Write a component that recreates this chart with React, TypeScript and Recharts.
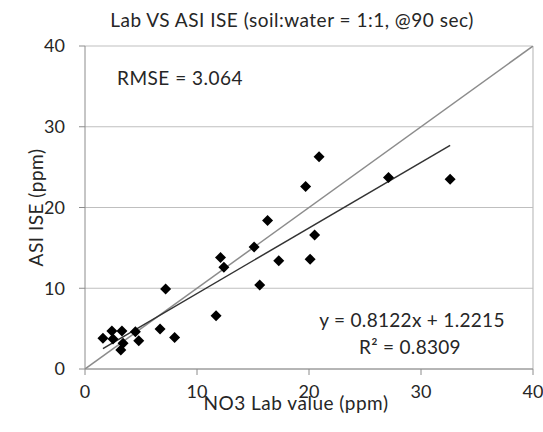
import React from 'react';
import { ScatterChart, Scatter, XAxis, YAxis, CartesianGrid, ReferenceLine } from 'recharts';

const labX = [1.6, 2.4, 3.3, 2.5, 3.4, 3.2, 4.5, 4.8, 6.7, 7.2, 8.0, 11.7, 12.1, 12.4, 15.1, 15.6, 16.3, 17.3, 19.7, 20.1, 20.5, 20.9, 27.1, 32.6];
const iseY = [3.8, 4.7, 4.7, 3.7, 3.2, 2.35, 4.6, 3.5, 4.95, 9.9, 3.9, 6.6, 13.8, 12.6, 15.1, 10.4, 18.4, 13.4, 22.6, 13.6, 16.6, 26.3, 23.7, 23.5];
const axisTicks = [0, 10, 20, 30, 40];
const oneToOne = [0, 40];
const slope = 0.8122;
const intercept = 1.2215;

const points = labX.map((x, i) => ({ x, y: iseY[i] }));
const diag = oneToOne.map((v) => ({ x: v, y: v }));
const xMin = Math.min(...labX);
const xMax = Math.max(...labX);
const trend = [xMin, xMax].map((x) => ({ x, y: slope * x + intercept }));

const FONT = 'Lato, "Open Sans", sans-serif';
const TXT = '#262626';

const Diamond = (props: any) => {
  const { cx, cy } = props;
  const r = 5.5;
  return <polygon points={`${cx},${cy - r} ${cx + r},${cy} ${cx},${cy + r} ${cx - r},${cy}`} fill="#000" />;
};

export default function App() {
  return (
    <div style={{ position: 'absolute', left: 0, top: 0, width: 543, height: 432, background: '#fff' }}>
      <ScatterChart width={543} height={432} margin={{ top: 46, right: 10, bottom: 0, left: 0 }}>
        <CartesianGrid horizontal={true} vertical={false} stroke="#bfbfbf" strokeWidth={1.2} />
        <XAxis
          type="number"
          dataKey="x"
          domain={[0, 40]}
          ticks={axisTicks}
          height={63}
          tickSize={6}
          tickMargin={10}
          stroke="#8c8c8c"
          tick={{ fill: TXT, fontSize: 18, fontFamily: FONT }}
          allowDataOverflow
          label={{ value: 'NO3 Lab value (ppm)', position: 'insideBottom', offset: 22, dx: -13, fill: TXT, fontSize: 19, fontFamily: FONT, letterSpacing: 0.5 }}
        />
        <YAxis
          type="number"
          dataKey="y"
          domain={[0, 40]}
          ticks={axisTicks}
          width={85}
          tickSize={6}
          tickMargin={14}
          stroke="#8c8c8c"
          tick={{ fill: TXT, fontSize: 18, fontFamily: FONT }}
          allowDataOverflow
          label={{ value: 'ASI ISE (ppm)', angle: -90, position: 'insideLeft', offset: 36, style: { textAnchor: 'middle' }, fill: TXT, fontSize: 19, fontFamily: FONT, letterSpacing: 0.5 }}
        />
        <ReferenceLine x={40} stroke="#bfbfbf" strokeWidth={1.2} />
        <Scatter data={diag} line={{ stroke: '#8c8c8c', strokeWidth: 1.5 }} shape={() => null} isAnimationActive={false} />
        <Scatter data={trend} line={{ stroke: '#333333', strokeWidth: 1.5 }} shape={() => null} isAnimationActive={false} />
        <Scatter data={points} shape={Diamond} isAnimationActive={false} />
      </ScatterChart>
      <svg width={543} height={432} style={{ position: 'absolute', left: 0, top: 0, pointerEvents: 'none' }}>
        <text x={292} y={27} textAnchor="middle" fontSize={19} letterSpacing={0.5} fontFamily={FONT} fill={TXT}>Lab VS ASI ISE (soil:water = 1:1, @90 sec)</text>
        <text x={117} y={85} fontSize={19} letterSpacing={0.5} fontFamily={FONT} fill={TXT}>RMSE = 3.064</text>
        <text x={412} y={327} textAnchor="middle" fontSize={19} letterSpacing={0.3} fontFamily={FONT} fill={TXT}>y = 0.8122x + 1.2215</text>
        <text x={410} y={354} textAnchor="middle" fontSize={19} letterSpacing={0.3} fontFamily={FONT} fill={TXT}>R² = 0.8309</text>
      </svg>
    </div>
  );
}
